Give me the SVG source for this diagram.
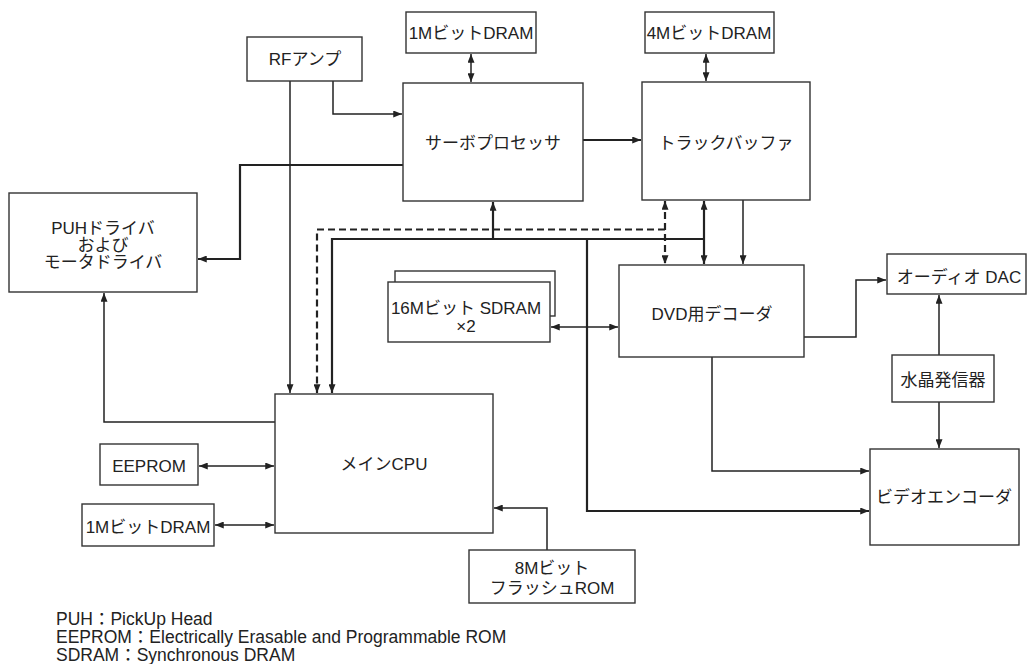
<svg xmlns="http://www.w3.org/2000/svg" width="1028" height="664" viewBox="0 0 1028 664">
<style>
.box{fill:#fff;stroke:#333;stroke-width:1.4}
.t{font-family:"Liberation Sans","Noto Sans CJK JP",sans-serif;font-size:17px;fill:#222;text-anchor:middle;dominant-baseline:central}
.lg{font-family:"Liberation Sans","Noto Sans CJK JP",sans-serif;font-size:17.5px;fill:#222}
.c{fill:none;stroke:#222;stroke-width:1.5}
.b{fill:none;stroke:#222;stroke-width:2.2}
.d{fill:none;stroke:#222;stroke-width:2.2;stroke-dasharray:7 4}
</style>
<defs>
<marker id="a" viewBox="0 0 10 8" refX="10" refY="4" markerWidth="9" markerHeight="7" markerUnits="userSpaceOnUse" orient="auto-start-reverse">
<path d="M0,0 L10,4 L0,8 z" fill="#222"/>
</marker>
</defs>
<rect width="1028" height="664" fill="#fff"/>

<g id="connectors">
<path class="c" d="M471,54 V82" marker-start="url(#a)" marker-end="url(#a)"/>
<path class="c" d="M706,54 V81" marker-start="url(#a)" marker-end="url(#a)"/>
<path class="c" d="M333,81 V114 H402" marker-end="url(#a)"/>
<path class="c" d="M290,81 V393" marker-end="url(#a)"/>
<path class="b" d="M583,140 H641" marker-end="url(#a)"/>
<path class="b" d="M403,165 H240 V259 H198" marker-end="url(#a)"/>
<path class="c" d="M275,422 H104 V293" marker-end="url(#a)"/>
<path class="d" d="M665,201 V264" marker-start="url(#a)" marker-end="url(#a)"/>
<path class="d" d="M665,229.5 H317 V393" marker-end="url(#a)"/>
<path class="b" d="M704,239 H332 V393" marker-end="url(#a)"/>
<path class="b" d="M704,201 V264" marker-start="url(#a)" marker-end="url(#a)"/>
<path class="b" d="M493,239 V202" marker-end="url(#a)"/>
<path class="b" d="M587,239 V511 H869" marker-end="url(#a)"/>
<path class="c" d="M743,200 V264" marker-end="url(#a)"/>
<path class="c" d="M551,327 H618" marker-start="url(#a)" marker-end="url(#a)"/>
<path class="c" d="M804,337 H856 V280 H886" marker-end="url(#a)"/>
<path class="c" d="M939,355 V295" marker-end="url(#a)"/>
<path class="c" d="M939,402 V448" marker-end="url(#a)"/>
<path class="c" d="M712,357 V471 H869" marker-end="url(#a)"/>
<path class="c" d="M199,466 H274" marker-start="url(#a)" marker-end="url(#a)"/>
<path class="c" d="M215,525 H274" marker-start="url(#a)" marker-end="url(#a)"/>
<path class="c" d="M547,550 V508 H494" marker-end="url(#a)"/>
</g>

<g id="rfamp"><rect class="box" x="247" y="37" width="115" height="44"/><text class="t" x="305" y="59">RFアンプ</text></g>
<g id="dram1m-top"><rect class="box" x="406" y="12" width="130" height="41"/><text class="t" x="471" y="33">1MビットDRAM</text></g>
<g id="servo"><rect class="box" x="403" y="83" width="180" height="118"/><text class="t" x="493" y="143">サーボプロセッサ</text></g>
<g id="dram4m"><rect class="box" x="645" y="12" width="129" height="41"/><text class="t" x="709" y="33">4MビットDRAM</text></g>
<g id="trackbuf"><rect class="box" x="642" y="82" width="168" height="118"/><text class="t" x="726" y="143">トラックバッファ</text></g>
<g id="puh"><rect class="box" x="9" y="193" width="188" height="99"/>
<text class="t" x="103" y="228">PUHドライバ</text><text class="t" x="103" y="245">および</text><text class="t" x="103" y="262">モータドライバ</text></g>
<g id="sdram"><rect class="box" x="395" y="271" width="160" height="45"/><rect class="box" x="388" y="282" width="162" height="60"/>
<text class="t" x="466" y="308">16Mビット SDRAM</text><text class="t" x="466" y="326">×2</text></g>
<g id="dvd"><rect class="box" x="619" y="265" width="185" height="92"/><text class="t" x="712" y="314">DVD用デコーダ</text></g>
<g id="dac"><rect class="box" x="887" y="254" width="139" height="40"/><text class="t" x="959" y="277">オーディオ DAC</text></g>
<g id="crystal"><rect class="box" x="892" y="355" width="102" height="47"/><text class="t" x="943" y="380">水晶発信器</text></g>
<g id="videoenc"><rect class="box" x="870" y="449" width="149" height="96"/><text class="t" x="944" y="497">ビデオエンコーダ</text></g>
<g id="cpu"><rect class="box" x="275" y="394" width="218" height="139"/><text class="t" x="384" y="464">メインCPU</text></g>
<g id="eeprom"><rect class="box" x="100" y="444" width="98" height="41"/><text class="t" x="149" y="466">EEPROM</text></g>
<g id="dram1m-bottom"><rect class="box" x="82" y="504" width="132" height="42"/><text class="t" x="148" y="527">1MビットDRAM</text></g>
<g id="flash"><rect class="box" x="469" y="550" width="166" height="53"/><text class="t" x="552" y="568">8Mビット</text><text class="t" x="552" y="588">フラッシュROM</text></g>

<g id="legend">
<text class="lg" x="56" y="625">PUH：PickUp Head</text>
<text class="lg" x="56" y="643">EEPROM：Electrically Erasable and Programmable ROM</text>
<text class="lg" x="56" y="661">SDRAM：Synchronous DRAM</text>
</g>
</svg>
